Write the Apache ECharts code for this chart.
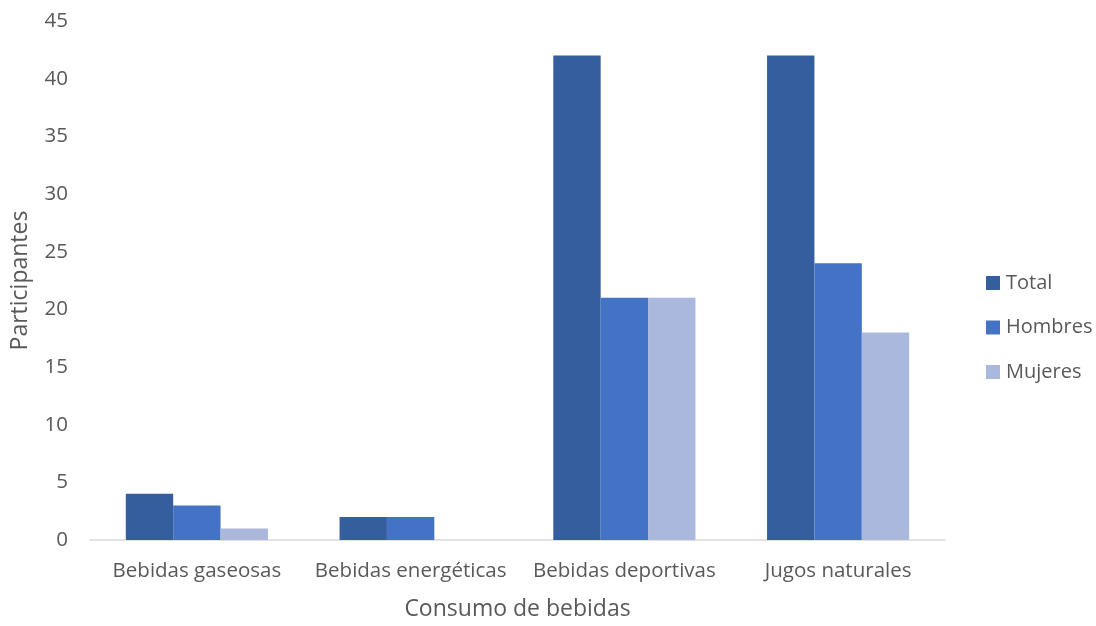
<!DOCTYPE html>
<html>
<head>
<meta charset="utf-8">
<script src="https://cdn.jsdelivr.net/npm/echarts@6/dist/echarts.min.js"></script>
<style>
  html, body { margin: 0; padding: 0; background: #fff; }
  #chart { width: 1096px; height: 626px; }
</style>
</head>
<body>
<div id="chart"></div>
<script>
// Beverage consumption by participant group
const categories = ['Bebidas gaseosas', 'Bebidas energéticas', 'Bebidas deportivas', 'Jugos naturales'];
const seriesNames = ['Total', 'Hombres', 'Mujeres'];
const totalValues = [4, 2, 42, 42];
const hombresValues = [3, 2, 21, 24];
const mujeresValues = [1, 0, 21, 18];
const yTicks = { min: 0, max: 45, interval: 5 };

const colors = ['#355E9F', '#4472C4', '#A9B8DC'];
const textColor = '#595959';
const fontFamily = '"Open Sans", "Noto Sans", sans-serif';

const chart = echarts.init(document.getElementById('chart'));

const valueSets = [totalValues, hombresValues, mujeresValues];
const series = seriesNames.map((name, i) => ({
  name: name,
  type: 'bar',
  data: valueSets[i],
  barGap: '0%',
  barCategoryGap: '33.5%',
  itemStyle: { color: colors[i] }
}));

chart.setOption({
  animation: false,
  textStyle: { fontFamily: fontFamily, color: textColor },
  grid: { left: 90, right: 151, top: 21, bottom: 81, containLabel: false },
  legend: {
    orient: 'vertical',
    left: 986,
    top: 273,
    padding: 0,
    itemWidth: 14,
    itemHeight: 14,
    itemGap: 24.5,
    icon: 'rect',
    textStyle: { fontSize: 20, color: textColor, fontFamily: fontFamily, padding: [0, 0, 0, 1] },
    data: seriesNames
  },
  xAxis: {
    type: 'category',
    data: categories,
    name: 'Consumo de bebidas',
    nameLocation: 'middle',
    nameGap: 58,
    nameTextStyle: { fontSize: 23, color: textColor, fontFamily: fontFamily },
    axisLine: { show: true, lineStyle: { color: '#D9D9D9', width: 1.5 } },
    axisTick: { show: false },
    axisLabel: { interval: 0, fontSize: 20.5, color: textColor, margin: 21, fontFamily: fontFamily }
  },
  yAxis: {
    type: 'value',
    min: yTicks.min,
    max: yTicks.max,
    interval: yTicks.interval,
    name: 'Participantes',
    nameLocation: 'middle',
    nameGap: 58,
    nameRotate: 90,
    nameTextStyle: { fontSize: 23, color: textColor, fontFamily: fontFamily },
    axisLine: { show: false },
    axisTick: { show: false },
    splitLine: { show: false },
    axisLabel: { fontSize: 20.5, color: textColor, margin: 22, fontFamily: fontFamily }
  },
  series: series
});
</script>
</body>
</html>
